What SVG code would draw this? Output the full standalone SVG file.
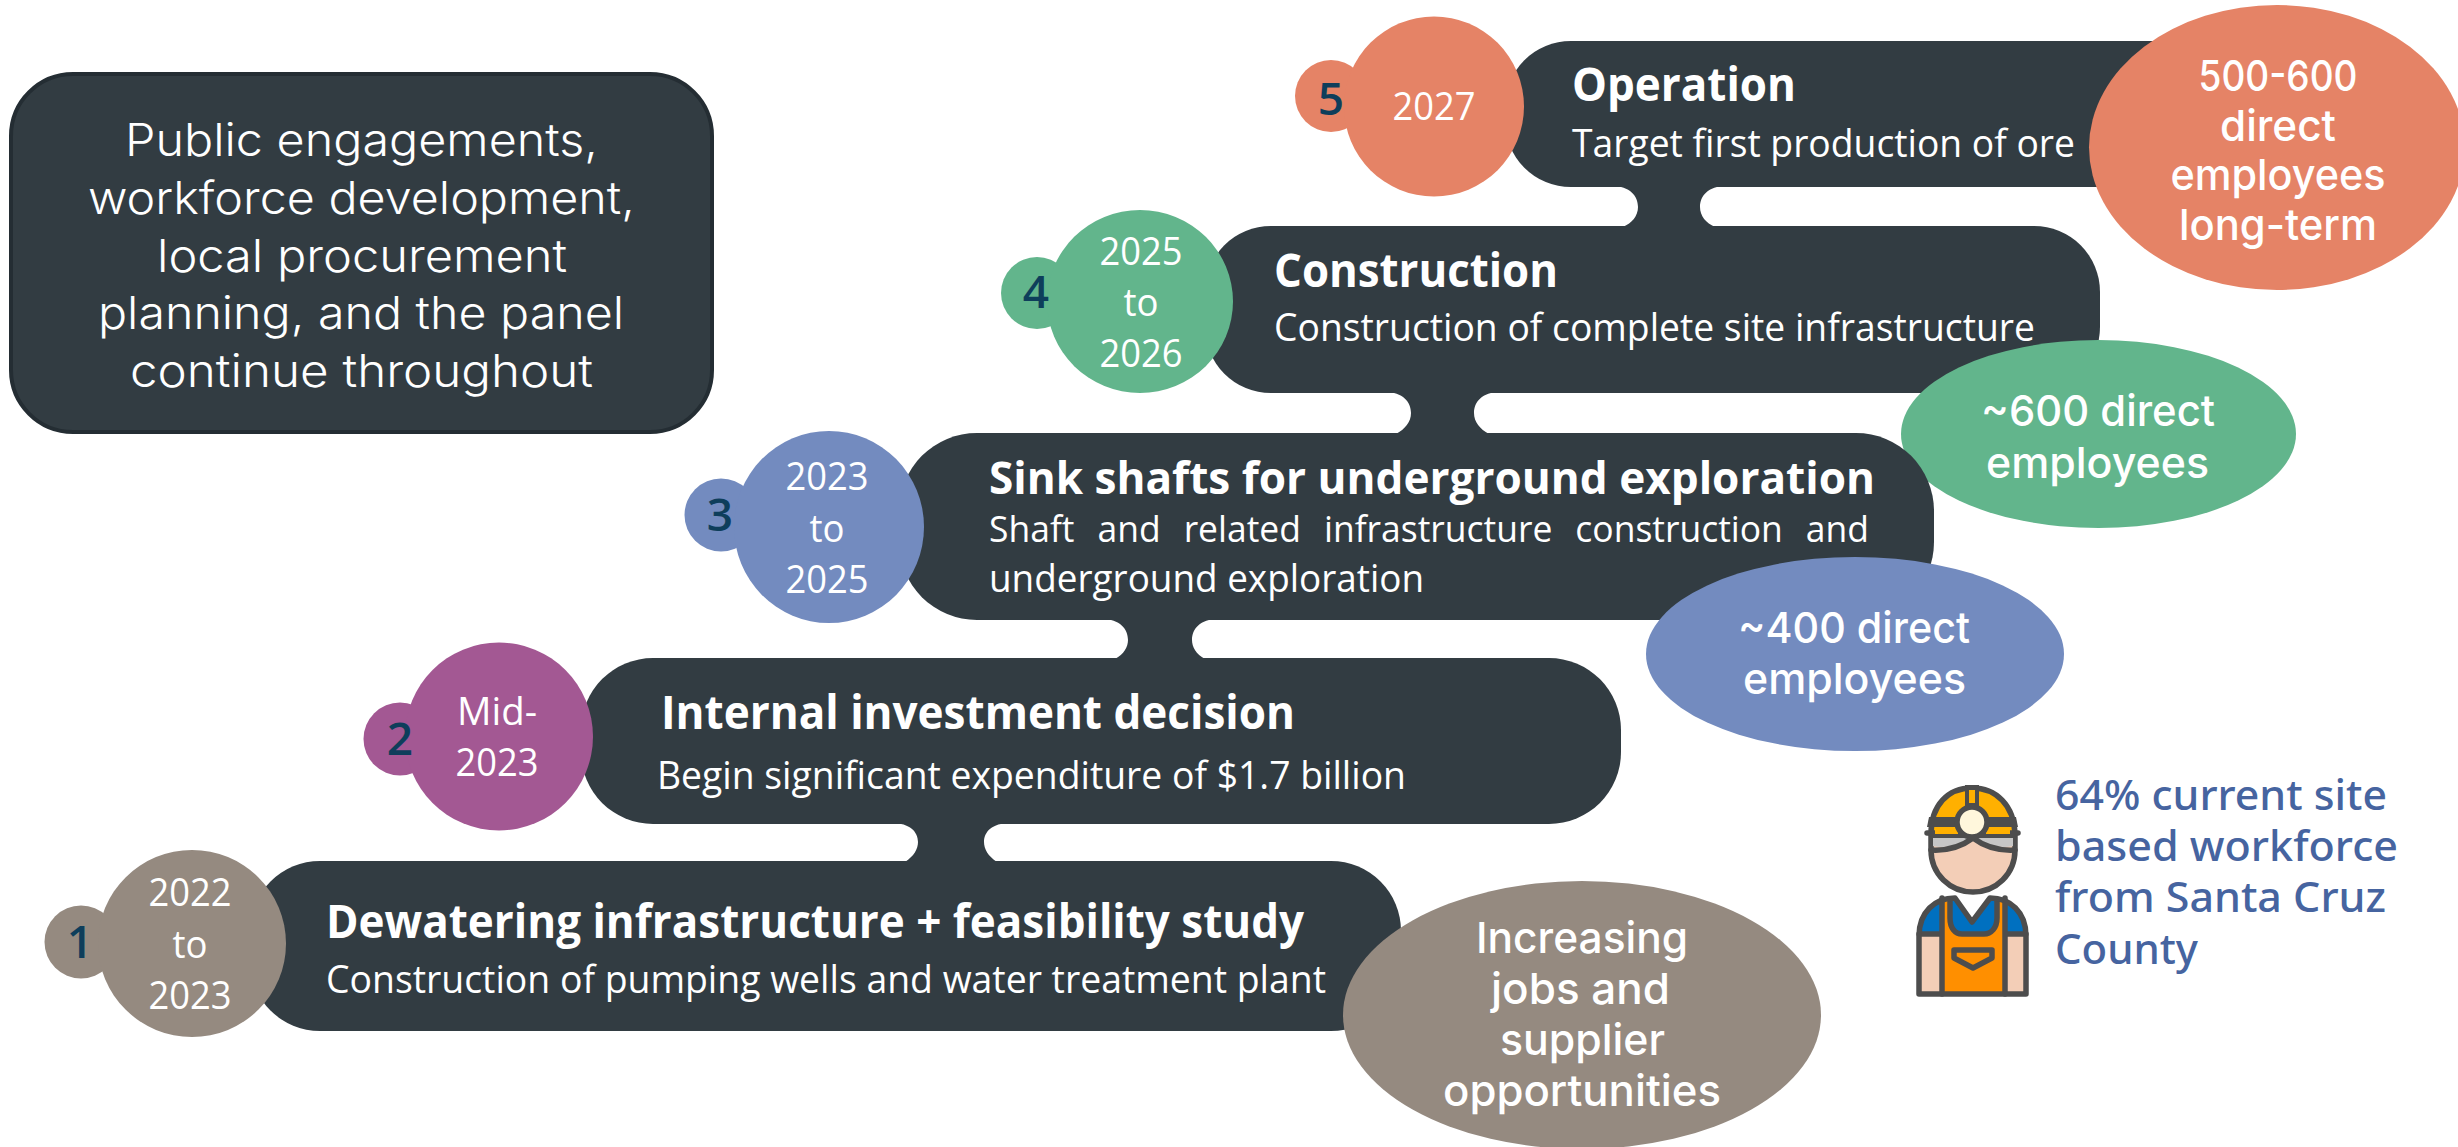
<svg xmlns="http://www.w3.org/2000/svg" width="2458" height="1147" viewBox="0 0 2458 1147">
<style>
.bar{fill:#323C42}
.h{font-family:"Open Sans","Liberation Sans",sans-serif;font-weight:700;font-size:46px;fill:#fff}
.d{font-family:"Open Sans","Liberation Sans",sans-serif;font-size:38px;fill:#fff}
.tight{font-size:44px}
.tightd{font-size:36px}
.y{font-family:"Open Sans","Liberation Sans",sans-serif;font-size:39px;fill:#fff;text-anchor:middle}
.n{font-family:"Open Sans","Liberation Sans",sans-serif;font-weight:600;font-size:46px;fill:#0E3E5B;text-anchor:middle}
.l{font-family:Inter,"Liberation Sans",sans-serif;font-weight:300;font-size:45px;fill:#fff}
.e{font-family:Inter,"Liberation Sans",sans-serif;font-weight:450;font-size:43px;fill:#fff}
.w{font-family:"Noto Sans","Liberation Sans",sans-serif;font-weight:500;font-size:41px;fill:#4664A0}
.s{stroke:#4D4D4D;stroke-width:5.500;stroke-linejoin:round;stroke-linecap:round}
</style>
<rect width="2458" height="1147" fill="#fff"/>
<g id="connectors" class="bar">
<path d="M1612 186C1630 186 1638 196 1638 207C1638 216 1632 223 1623 227L1715 227C1706 223 1700 216 1700 207C1700 196 1708 186 1726 186Z"/>
<path d="M1385 392C1403 392 1411 402 1411 413C1411 422 1405 429 1396 434L1489 434C1480 429 1474 422 1474 413C1474 402 1482 392 1500 392Z"/>
<path d="M1102 619C1120 619 1128 629 1128 640C1128 647 1124 654 1115 659L1205 659C1196 654 1192 647 1192 640C1192 629 1200 619 1218 619Z"/>
<path d="M892 823C910 823 918 832 918 842C918 849 914 856 905 862L997 862C988 856 984 849 984 842C984 832 992 823 1010 823Z"/>
</g>
<g id="panel">
<rect x="11" y="74" width="701" height="358" rx="62" fill="#323C42" stroke="#242D33" stroke-width="4"/>
<text class="l" x="125" y="156" textLength="473" lengthAdjust="spacingAndGlyphs">Public engagements,</text>
<text class="l" x="88" y="214" textLength="547" lengthAdjust="spacingAndGlyphs">workforce development,</text>
<text class="l" x="157" y="272" textLength="410" lengthAdjust="spacingAndGlyphs">local procurement</text>
<text class="l" x="98" y="329" textLength="526" lengthAdjust="spacingAndGlyphs">planning, and the panel</text>
<text class="l" x="130" y="387" textLength="463" lengthAdjust="spacingAndGlyphs">continue throughout</text>
</g>
<g id="step-5">
<rect class="bar" x="1505" y="41" width="800" height="146" rx="66"/>
<circle cx="1331" cy="96" r="36" fill="#E58366"/>
<ellipse cx="1434" cy="106.500" rx="90" ry="90" fill="#E58366"/>
<text class="n" x="1331" y="115">5</text>
<text class="y" x="1434" y="120" textLength="83" lengthAdjust="spacingAndGlyphs">2027</text>
<text class="h" x="1572" y="101" textLength="224" lengthAdjust="spacingAndGlyphs">Operation</text>
<text class="d" x="1572" y="157" textLength="503" lengthAdjust="spacingAndGlyphs">Target first production of ore</text>
<ellipse cx="2277" cy="147.500" rx="188" ry="142.500" fill="#E58366"/>
<g class="e" text-anchor="middle">
<text x="2278" y="91" textLength="159" lengthAdjust="spacingAndGlyphs">500-600</text>
<text x="2278" y="141" textLength="116" lengthAdjust="spacingAndGlyphs">direct</text>
<text x="2278" y="190" textLength="215" lengthAdjust="spacingAndGlyphs">employees</text>
<text x="2278" y="240" textLength="198" lengthAdjust="spacingAndGlyphs">long-term</text>
</g>
</g>
<g id="step-4">
<rect class="bar" x="1205" y="226" width="895" height="167" rx="66"/>
<circle cx="1037" cy="293" r="36" fill="#62B58C"/>
<ellipse cx="1140" cy="301.500" rx="93" ry="91.500" fill="#62B58C"/>
<text class="n" x="1036" y="308">4</text>
<text class="y" x="1141" y="265" textLength="83" lengthAdjust="spacingAndGlyphs">2025</text>
<text class="y" x="1141" y="316" textLength="35" lengthAdjust="spacingAndGlyphs">to</text>
<text class="y" x="1141" y="367" textLength="83" lengthAdjust="spacingAndGlyphs">2026</text>
<text class="h" x="1274" y="287" textLength="284" lengthAdjust="spacingAndGlyphs">Construction</text>
<text class="d" x="1274" y="341" textLength="761" lengthAdjust="spacingAndGlyphs">Construction of complete site infrastructure</text>
<ellipse cx="2098.500" cy="434" rx="197.500" ry="94" fill="#62B58C"/>
<g class="e">
<text x="1981" y="426" textLength="234" lengthAdjust="spacingAndGlyphs">~600 direct</text>
<text x="1986" y="478" textLength="223" lengthAdjust="spacingAndGlyphs">employees</text>
</g>
</g>
<g id="step-3">
<rect class="bar" x="899" y="433" width="1035" height="187" rx="78"/>
<circle cx="721" cy="515" r="36.500" fill="#738BBF"/>
<ellipse cx="829" cy="527" rx="95" ry="96" fill="#738BBF"/>
<text class="n" x="720" y="531">3</text>
<text class="y" x="827" y="490" textLength="83" lengthAdjust="spacingAndGlyphs">2023</text>
<text class="y" x="827" y="542" textLength="35" lengthAdjust="spacingAndGlyphs">to</text>
<text class="y" x="827" y="593" textLength="83" lengthAdjust="spacingAndGlyphs">2025</text>
<text class="h tight" x="989" y="494" textLength="886" lengthAdjust="spacingAndGlyphs">Sink shafts for underground exploration</text>
<text class="d tightd" x="989" y="542" word-spacing="14" textLength="880" lengthAdjust="spacingAndGlyphs">Shaft and related infrastructure construction and</text>
<text class="d" x="989" y="592" textLength="435" lengthAdjust="spacingAndGlyphs">underground exploration</text>
<ellipse cx="1855" cy="654" rx="209" ry="97" fill="#738BBF"/>
<g class="e">
<text x="1738" y="643" textLength="232" lengthAdjust="spacingAndGlyphs">~400 direct</text>
<text x="1743" y="694" textLength="223" lengthAdjust="spacingAndGlyphs">employees</text>
</g>
</g>
<g id="step-2">
<rect class="bar" x="581" y="658" width="1040" height="166" rx="72"/>
<circle cx="400" cy="739" r="36.500" fill="#A35893"/>
<ellipse cx="499" cy="736.500" rx="94" ry="94" fill="#A35893"/>
<text class="n" x="400" y="755">2</text>
<text class="y" x="497" y="725" textLength="80" lengthAdjust="spacingAndGlyphs">Mid-</text>
<text class="y" x="497" y="776" textLength="83" lengthAdjust="spacingAndGlyphs">2023</text>
<text class="h" x="661" y="729" textLength="634" lengthAdjust="spacingAndGlyphs">Internal investment decision</text>
<text class="d" x="657" y="789" textLength="749" lengthAdjust="spacingAndGlyphs">Begin significant expenditure of $1.7 billion</text>
</g>
<g id="step-1">
<rect class="bar" x="250" y="861" width="1151" height="170" rx="70"/>
<circle cx="81" cy="942" r="36.500" fill="#958A80"/>
<ellipse cx="192" cy="943.500" rx="94" ry="93.500" fill="#958A80"/>
<text class="n" x="80" y="958">1</text>
<text class="y" x="190" y="906" textLength="83" lengthAdjust="spacingAndGlyphs">2022</text>
<text class="y" x="190" y="958" textLength="35" lengthAdjust="spacingAndGlyphs">to</text>
<text class="y" x="190" y="1009" textLength="83" lengthAdjust="spacingAndGlyphs">2023</text>
<text class="h" x="326" y="938" textLength="978" lengthAdjust="spacingAndGlyphs">Dewatering infrastructure + feasibility study</text>
<text class="d" x="326" y="993" textLength="1000" lengthAdjust="spacingAndGlyphs">Construction of pumping wells and water treatment plant</text>
<ellipse cx="1582" cy="1015" rx="239" ry="134" fill="#958A80"/>
<g class="e">
<text x="1476" y="953" textLength="212" lengthAdjust="spacingAndGlyphs">Increasing</text>
<text x="1491" y="1004" textLength="179" lengthAdjust="spacingAndGlyphs">jobs and</text>
<text x="1500" y="1055" textLength="165" lengthAdjust="spacingAndGlyphs">supplier</text>
<text x="1443" y="1106" textLength="278" lengthAdjust="spacingAndGlyphs">opportunities</text>
</g>
</g>
<g id="workforce">
<g id="worker-icon">
<path d="M1919 994V936C1919 912 1935 898 1955 898L1972 922L1990 898C2010 898 2026 912 2026 936V994Z" fill="#0070C0"/>
<path d="M1920 936H1942V992H1920ZM2004 936H2026V992H2004Z" fill="#F3CEB7"/>
<path d="M1942 899H1950V918C1950 928 1955 934 1962 934H1984C1991 934 1997 928 1997 918V899H2005V994H1942Z" fill="#FF8F00"/>
<path class="s" d="M1950 900V918C1950 928 1955 934 1962 934H1984C1991 934 1997 928 1997 918V900M1942 898V994M2005 898V994M1919 934H1942M2005 934H2026" fill="none"/>
<path class="s" d="M1919 994V936C1919 912 1935 898 1955 898L1972 922L1990 898C2010 898 2026 912 2026 936V994Z" fill="none"/>
<path class="s" d="M1954 950H1992V958L1973 968L1954 958Z" fill="#FF8F00"/>
<path class="s" d="M1931 836V850C1931 874 1950 892 1973 892C1996 892 2015 874 2015 850V836Z" fill="#F3CEB7"/>
<path d="M1933 838H2013V846C2000 849 1985 845 1973 838C1961 845 1946 849 1933 846Z" fill="#C6C6C6"/>
<path class="s" d="M1931 850C1948 851 1961 847 1973 838C1985 847 1998 851 2015 850" fill="none"/>
<path class="s" d="M1931 834C1931 805 1948 788 1972 788C1996 788 2014 805 2015 834Z" fill="#FFB000"/>
<path d="M1929 817H2016L2018 827H1927Z" fill="#4D4D4D"/>
<path class="s" d="M1927 833H2018" fill="none"/>
<path d="M1935 830H1958V834H1935ZM1986 830H2010V834H1986Z" fill="#FFB000"/>
<path d="M1965 785H1979V806H1965Z" fill="#4D4D4D"/>
<path d="M1969 790H1975V803H1969Z" fill="#FFB000"/>
<circle class="s" cx="1972" cy="822" r="15" fill="#FFF7DC"/>
</g>
<text class="w" x="2055" y="810" textLength="332" lengthAdjust="spacingAndGlyphs">64% current site</text>
<text class="w" x="2055" y="861" textLength="343" lengthAdjust="spacingAndGlyphs">based workforce</text>
<text class="w" x="2055" y="912" textLength="331" lengthAdjust="spacingAndGlyphs">from Santa Cruz</text>
<text class="w" x="2055" y="964" textLength="143" lengthAdjust="spacingAndGlyphs">County</text>
</g>
</svg>
